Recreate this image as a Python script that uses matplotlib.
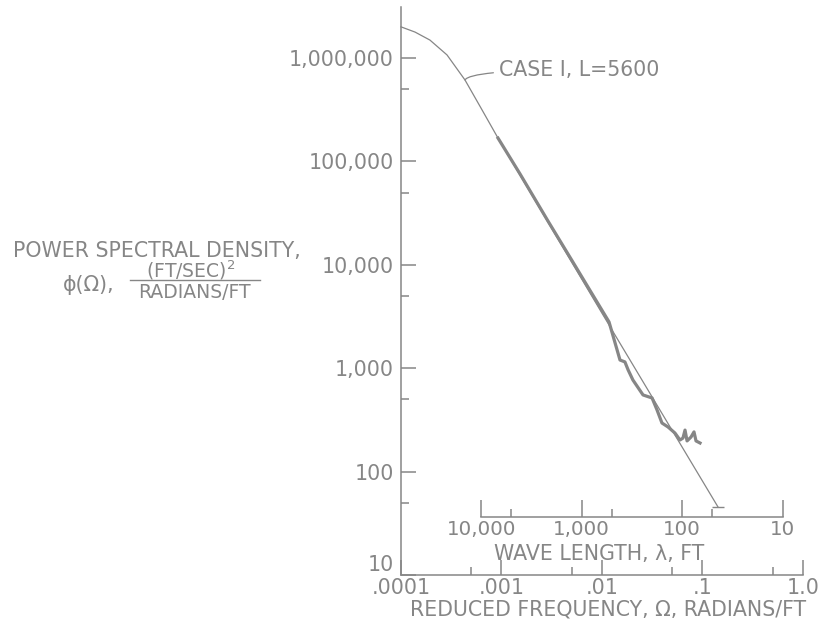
import numpy as np
import matplotlib
matplotlib.use('Agg')
import matplotlib.pyplot as plt
from matplotlib.ticker import FixedLocator, NullFormatter
from matplotlib.lines import Line2D

GRAY = '#868686'
FS = 14.8

# ---- data ----
theory_freq = [1.0e-4, 1.38e-4, 1.94e-4, 2.87e-4, 4.33e-4, 6.25e-4, 9.23e-4, 1.0e-2, 1.426e-1]
theory_psd = [2.0e6, 1.78e6, 1.49e6, 1.07e6, 6.13e5, 3.28e5, 1.68e5, 3.4e3, 45.5]

measured_freq = [9.23e-4, 1.53e-3, 2.90e-3, 5.14e-3, 1.175e-2, 1.51e-2, 1.69e-2, 1.82e-2,
                 2.03e-2, 2.56e-2, 3.15e-2, 3.53e-2, 3.95e-2, 4.54e-2, 5.32e-2, 5.97e-2,
                 6.39e-2, 6.70e-2, 7.02e-2, 7.69e-2, 8.23e-2, 8.62e-2, 9.45e-2]
measured_psd = [1.68e5, 7.55e4, 2.65e4, 1.06e4, 2.80e3, 1.20e3, 1.15e3, 962,
                769, 551, 515, 394, 295, 270, 236, 202,
                211, 252, 198, 216, 242, 198, 189]

x_ticks = [1e-4, 1e-3, 1e-2, 1e-1, 1.0]
x_tick_labels = ['.0001', '.001', '.01', '.1', '1.0']
x_minor = [5e-4, 5e-3, 5e-2, 5e-1]
y_ticks = [10, 100, 1e3, 1e4, 1e5, 1e6]
y_tick_labels = ['10', '100', '1,000', '10,000', '100,000', '1,000,000']
y_minor = [50, 500, 5e3, 5e4, 5e5]
wl_ticks = [10000, 1000, 100, 10]
wl_tick_labels = ['10,000', '1,000', '100', '10']
wl_minor = [5000, 500, 50]

W, H = 820, 626
fig = plt.figure(figsize=(W / 100, H / 100), dpi=100)

def fx(px):
    return px / W

def fy(py):
    return 1 - py / H

ax = fig.add_axes([fx(401), fy(575), (803 - 401) / W, (575 - 7) / H])
ax.set_xscale('log')
ax.set_yscale('log')
ax.set_xlim(1e-4, 1.0)
ax.set_ylim(10, 10 ** 6.493)

for s in ['top', 'right']:
    ax.spines[s].set_visible(False)
for s in ['left', 'bottom']:
    ax.spines[s].set_color(GRAY)
    ax.spines[s].set_linewidth(1.1)

ax.xaxis.set_major_locator(FixedLocator(x_ticks))
ax.set_xticklabels(x_tick_labels)
ax.xaxis.set_minor_locator(FixedLocator(x_minor))
ax.xaxis.set_minor_formatter(NullFormatter())
ax.yaxis.set_major_locator(FixedLocator(y_ticks))
ax.set_yticklabels(y_tick_labels)
ax.yaxis.set_minor_locator(FixedLocator(y_minor))
ax.yaxis.set_minor_formatter(NullFormatter())
ax.tick_params(which='major', direction='in', length=11, width=1.1, color=GRAY,
               labelcolor=GRAY, labelsize=FS)
ax.tick_params(which='minor', direction='in', length=6, width=1.1, color=GRAY)
ax.tick_params(axis='x', which='major', pad=2)
ax.tick_params(axis='y', which='major', pad=5)
# lowest y label sits above the bottom spine, as in the reference
ax.get_yticklabels()[0].set_verticalalignment('bottom')

# theoretical curve
ax.plot(theory_freq, theory_psd, color=GRAY, lw=0.9, clip_on=False)
ax.plot(theory_freq[-1:], theory_psd[-1:], marker='_', ms=9, mew=1.0, color=GRAY)
# measured
ax.plot(measured_freq, measured_psd, color=GRAY, lw=2.3, solid_joinstyle='round')

ax.annotate('CASE I, L=5600', xy=(4.33e-4, 6.13e5), xytext=(9.43e-4, 7.65e5),
            ha='left', va='center', fontsize=FS, color=GRAY,
            arrowprops=dict(arrowstyle='-', color=GRAY, lw=0.9, shrinkA=2, shrinkB=0,
                            connectionstyle='angle3,angleA=0,angleB=60'))

# wave length axis
sec = ax.secondary_xaxis((575 - 517) / (575 - 7),
                         functions=(lambda x: 2 * np.pi / x, lambda x: 2 * np.pi / x))
sec.xaxis.set_major_locator(FixedLocator(wl_ticks))
sec.set_xticklabels(wl_tick_labels)
sec.xaxis.set_minor_locator(FixedLocator(wl_minor))
sec.xaxis.set_minor_formatter(NullFormatter())
sec.spines['bottom'].set_bounds(10, 10000)
sec.spines['bottom'].set_color(GRAY)
sec.spines['bottom'].set_linewidth(1.1)
sec.tick_params(which='major', direction='in', length=12, width=1.1, color=GRAY,
                labelcolor=GRAY, labelsize=14.3, pad=2.5)
sec.tick_params(which='minor', direction='in', length=6, width=1.1, color=GRAY)

# axis titles
fig.text(fx(608), fy(610), 'REDUCED FREQUENCY, \u03a9, RADIANS/FT', ha='center', va='center',
         fontsize=FS, color=GRAY)
fig.text(fx(599), fy(543.5), 'WAVE LENGTH, \u03bb, FT', ha='center', va='top',
         fontsize=FS, color=GRAY)

# y label
fig.text(fx(157), fy(257), 'POWER SPECTRAL DENSITY,', ha='center', va='baseline',
         fontsize=FS, color=GRAY)
fig.text(fx(89), fy(285), '\u03d5(\u03a9),', ha='center', va='center', fontsize=FS, color=GRAY)
fig.text(fx(191), fy(278), '(FT/SEC)$^{2}$', ha='center', va='baseline', fontsize=13.5,
         color=GRAY)
fig.text(fx(194.5), fy(282.5), 'RADIANS/FT', ha='center', va='top', fontsize=13.5, color=GRAY)
fig.add_artist(Line2D([fx(130), fx(260)], [fy(280), fy(280)], color=GRAY, lw=1.0))

fig.savefig('out.png', dpi=100)
